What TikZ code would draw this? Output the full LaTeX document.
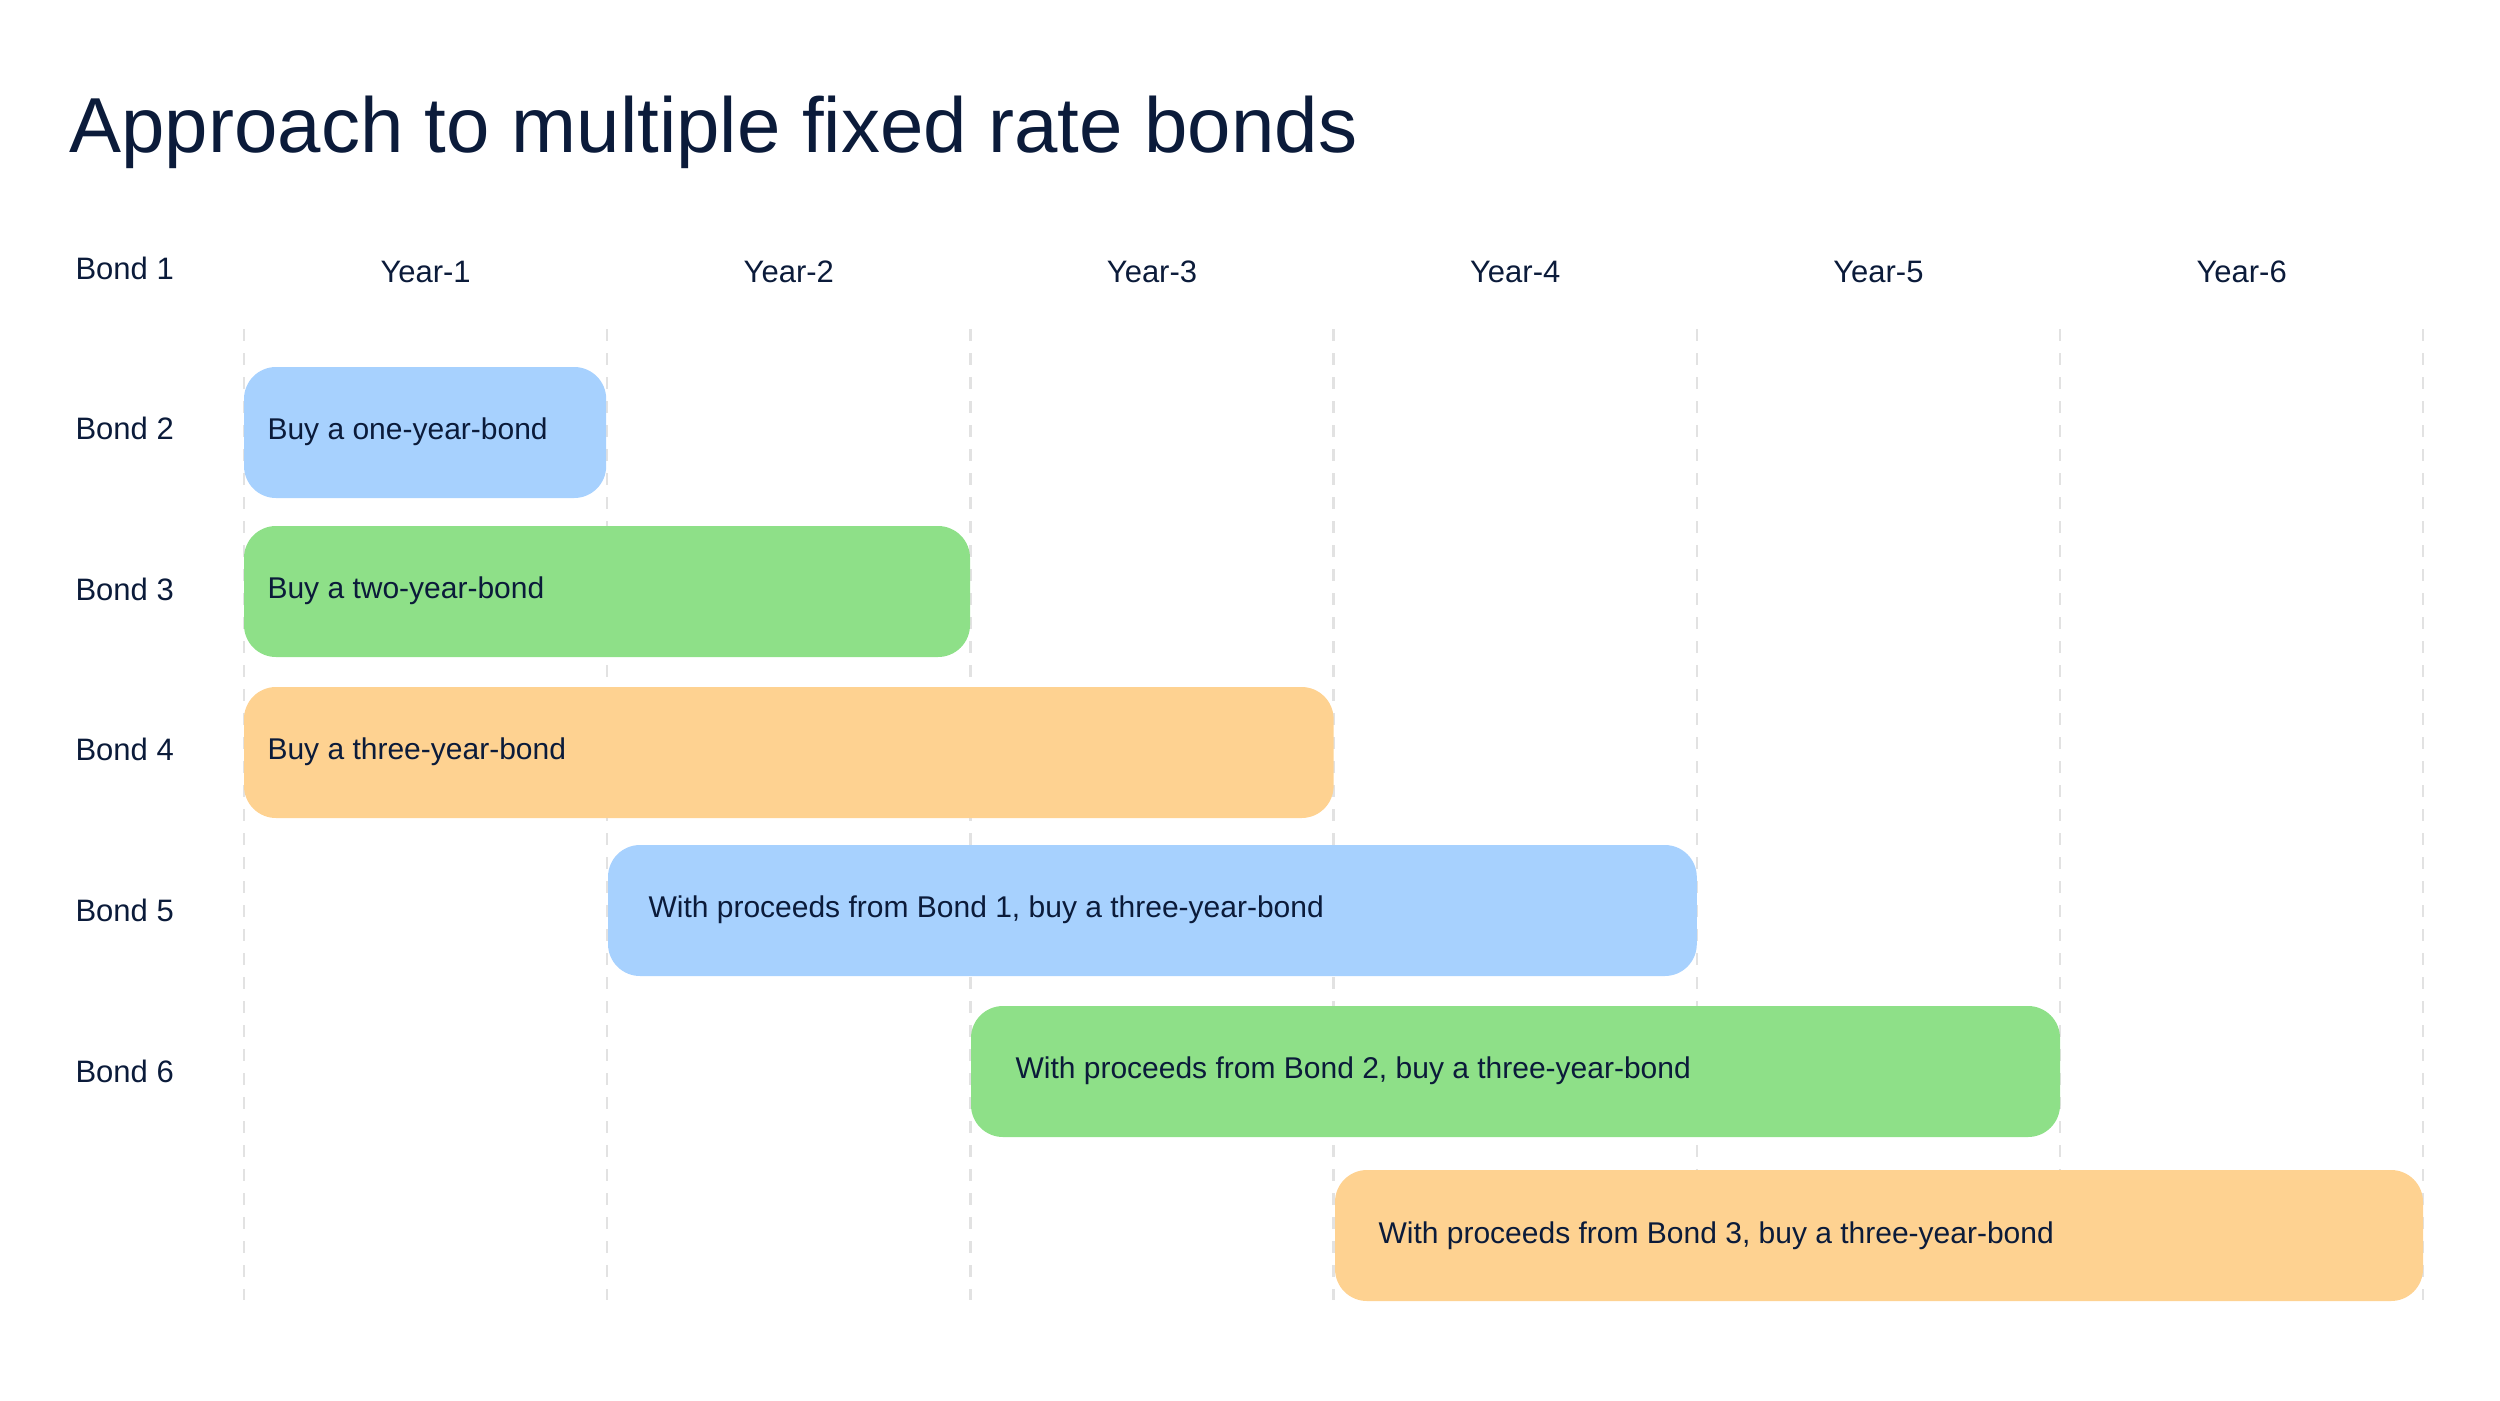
\documentclass[tikz,border=0pt]{standalone}
\usepackage{fontspec}
\setmainfont{Liberation Sans}
\definecolor{ink}{HTML}{0B1B3A}
\definecolor{cblue}{HTML}{A7D1FE}
\definecolor{cgreen}{HTML}{8EE088}
\definecolor{corange}{HTML}{FED291}
\definecolor{grid}{HTML}{E2E2E2}
\begin{document}
\begin{tikzpicture}[x=1pt,y=-1pt,
  bar/.style={rounded corners=32pt,inner sep=0pt,anchor=north west},
  lbl/.style={text=ink,font=\fontsize{31}{36}\selectfont},
  btxt/.style={text=ink,font=\fontsize{30}{36}\selectfont,anchor=west},
  gridline/.style={draw=grid,line width=2.5pt,dash pattern=on 12pt off 12pt}]
\useasboundingbox (0,0) rectangle (2500,1400);
\node[anchor=base west,text=ink,font=\fontsize{78}{90}\selectfont] (title) at (66,152) {Approach to multiple fixed rate bonds};
\foreach \i in {0,...,6}{
  \coordinate (gt\i) at (244+363.2*\i,329);
  \coordinate (gb\i) at (244+363.2*\i,1300);
  \draw[gridline] (gt\i) -- (gb\i);
}
\foreach \i in {1,...,6}{
  \node[lbl] (year\i) at (244+363.2*\i-181.6,272) {Year-\i};
  \node[lbl,anchor=west] (bondl\i) at (72,268+160.6*\i-160.6) {Bond \i};
}
% bars
\newcommand{\mybar}[6]{%
  \fill[#4,rounded corners=32pt] (244+363.2*#1,#3) rectangle (244+363.2*#2,#3+131);
  \node[btxt] (#6) at (244+363.2*#1+#5,#3+66) {\strut};
}
\fill[cblue,rounded corners=32pt] (244,367) rectangle (606.2,498);
\node[btxt] (t1) at (264,432) {Buy a one-year-bond};
\fill[cgreen,rounded corners=32pt] (244,526) rectangle (970,657);
\node[btxt] (t2) at (264,591) {Buy a two-year-bond};
\fill[corange,rounded corners=32pt] (244,687) rectangle (1333.6,818);
\node[btxt] (t3) at (264,752) {Buy a three-year-bond};
\fill[cblue,rounded corners=32pt] (608,845) rectangle (1696.8,976);
\node[btxt] (t4) at (645,910) {With proceeds from Bond 1, buy a three-year-bond};
\fill[cgreen,rounded corners=32pt] (971,1006) rectangle (2060,1137);
\node[btxt] (t5) at (1012,1071) {With proceeds from Bond 2, buy a three-year-bond};
\fill[corange,rounded corners=32pt] (1335,1170) rectangle (2423,1301);
\node[btxt] (t6) at (1375,1236) {With proceeds from Bond 3, buy a three-year-bond};
\end{tikzpicture}
\end{document}
